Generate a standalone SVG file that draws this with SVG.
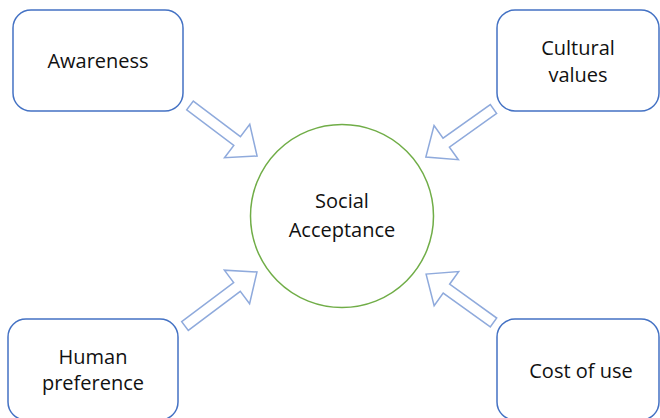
<svg xmlns="http://www.w3.org/2000/svg" width="660" height="418" viewBox="0 0 660 418">
  <style>
    .box { fill: #ffffff; stroke: #4472c4; stroke-width: 1.5; }
    .hub { fill: #ffffff; stroke: #70ad47; stroke-width: 1.5; }
    .arrow { fill: #ffffff; stroke: #8faadc; stroke-width: 1.5; stroke-linejoin: miter; }
    .label { font-family: "Open Sans", "Liberation Sans", sans-serif; font-size: 20px; fill: #111111; text-anchor: middle; }
  </style>
  <rect x="0" y="0" width="660" height="418" fill="#ffffff"/>

  <!-- block arrows pointing to the central circle -->
  <g id="connectors">
    <polygon class="arrow" transform="translate(190,105.5) rotate(37)" points="0,-5.5 59,-5.5 59,-21 84,0 59,21 59,5.5 0,5.5"/>
    <polygon class="arrow" transform="translate(493.5,109) rotate(144.6)" points="0,-5.5 58,-5.5 58,-21 83,0 58,21 58,5.5 0,5.5"/>
    <polygon class="arrow" transform="translate(185,326) rotate(-36.9)" points="0,-5.5 65,-5.5 65,-21 90,0 65,21 65,5.5 0,5.5"/>
    <polygon class="arrow" transform="translate(493.5,322.5) rotate(-144.3)" points="0,-5.5 58,-5.5 58,-21 83,0 58,21 58,5.5 0,5.5"/>
  </g>

  <g id="social-acceptance">
    <circle class="hub" cx="342" cy="216" r="91.5"/>
    <text class="label" x="342" y="208">Social</text>
    <text class="label" x="342" y="237">Acceptance</text>
  </g>

  <g id="awareness">
    <rect class="box" x="13" y="10" width="170" height="101" rx="18"/>
    <text class="label" x="98" y="68">Awareness</text>
  </g>

  <g id="cultural-values">
    <rect class="box" x="497" y="10" width="162" height="101" rx="18"/>
    <text class="label" x="578" y="55">Cultural</text>
    <text class="label" x="578" y="81.5">values</text>
  </g>

  <g id="human-preference">
    <rect class="box" x="8" y="319" width="170" height="101" rx="18"/>
    <text class="label" x="93" y="364">Human</text>
    <text class="label" x="93" y="390">preference</text>
  </g>

  <g id="cost-of-use">
    <rect class="box" x="497" y="319" width="162" height="101" rx="18"/>
    <text class="label" x="581" y="378">Cost of use</text>
  </g>
</svg>
